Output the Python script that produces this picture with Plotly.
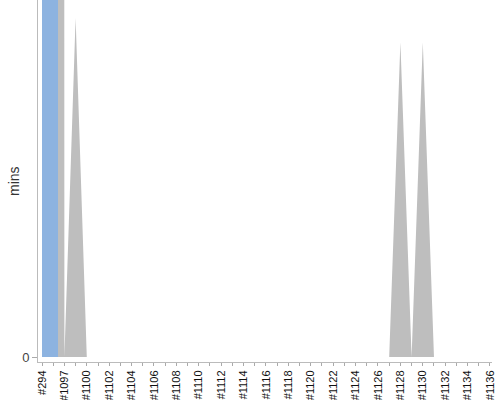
import plotly.graph_objects as go

# builds (every other one is labelled on the axis)
builds = ["#294", "#1096", "#1097", "#1099", "#1100", "#1101", "#1102", "#1103",
          "#1104", "#1105", "#1106", "#1107", "#1108", "#1109", "#1110", "#1111",
          "#1112", "#1113", "#1114", "#1115", "#1116", "#1117", "#1118", "#1119",
          "#1120", "#1121", "#1122", "#1123", "#1124", "#1125", "#1126", "#1127",
          "#1128", "#1129", "#1130", "#1131", "#1132", "#1133", "#1134", "#1135",
          "#1136"]
# duration in minutes (the first two go far off the top of the chart)
duration = [1500, 1500, 0, 14, 0, 0, 0, 0,
            0, 0, 0, 0, 0, 0, 0, 0,
            0, 0, 0, 0, 0, 0, 0, 0,
            0, 0, 0, 0, 0, 0, 0, 0,
            13, 0, 13, 0, 0, 0, 0, 0,
            0]
selected_build = ["#294"]
selected_mins = [1500]

pos = list(range(len(builds)))
sel_pos = [builds.index(b) for b in selected_build]

fig = go.Figure()
fig.add_trace(go.Scatter(x=pos, y=duration, mode="lines", fill="tozeroy",
                         line=dict(width=0, color="#bebebe"),
                         fillcolor="#bebebe", hoverinfo="skip"))
fig.add_trace(go.Bar(x=sel_pos, y=selected_mins, xaxis="x2",
                     marker=dict(color="#8db3e0", line=dict(width=0)),
                     width=1.43, offset=0))

xrange = [-0.357, 40.18]
fig.update_layout(
    width=500, height=400,
    margin=dict(l=38, r=8, t=0, b=38, autoexpand=False),
    paper_bgcolor="white", plot_bgcolor="white",
    showlegend=False,
    font=dict(family="Arial, Liberation Sans", color="#222"),
    xaxis=dict(range=xrange, tickmode="array", tickvals=pos[::2],
               ticktext=builds[::2], tickangle=-90, tickfont=dict(size=11, color="#111"),
               showline=True, linecolor="#bbb", linewidth=1,
               ticks="outside", ticklen=3, tickcolor="#aaa",
               minor=dict(ticks="outside", tickmode="linear", tick0=0, dtick=1,
                          ticklen=3, tickcolor="#aaa"),
               showgrid=False, zeroline=False, automargin=False),
    xaxis2=dict(range=xrange, overlaying="x", visible=False),
    yaxis=dict(range=[-0.2065, 14.745], tickvals=[0], ticktext=["0"],
               tickfont=dict(size=13, color="#444"),
               showline=True, linecolor="#bbb", linewidth=1,
               ticks="outside", ticklen=5, tickcolor="#aaa",
               showgrid=False, zeroline=False, automargin=False),
)
# y axis title, placed by hand a bit closer to the axis than plotly would
fig.add_annotation(text="mins", textangle=-90, showarrow=False,
                   xref="paper", yref="paper", x=-0.053, y=0.5,
                   xanchor="center", yanchor="middle",
                   font=dict(size=14, color="#333"))

# the page's default body margin would push the chart 8px right and down
fig.write_html("out.html", config={"displayModeBar": False},
               post_script="document.body.style.margin = '0';")
